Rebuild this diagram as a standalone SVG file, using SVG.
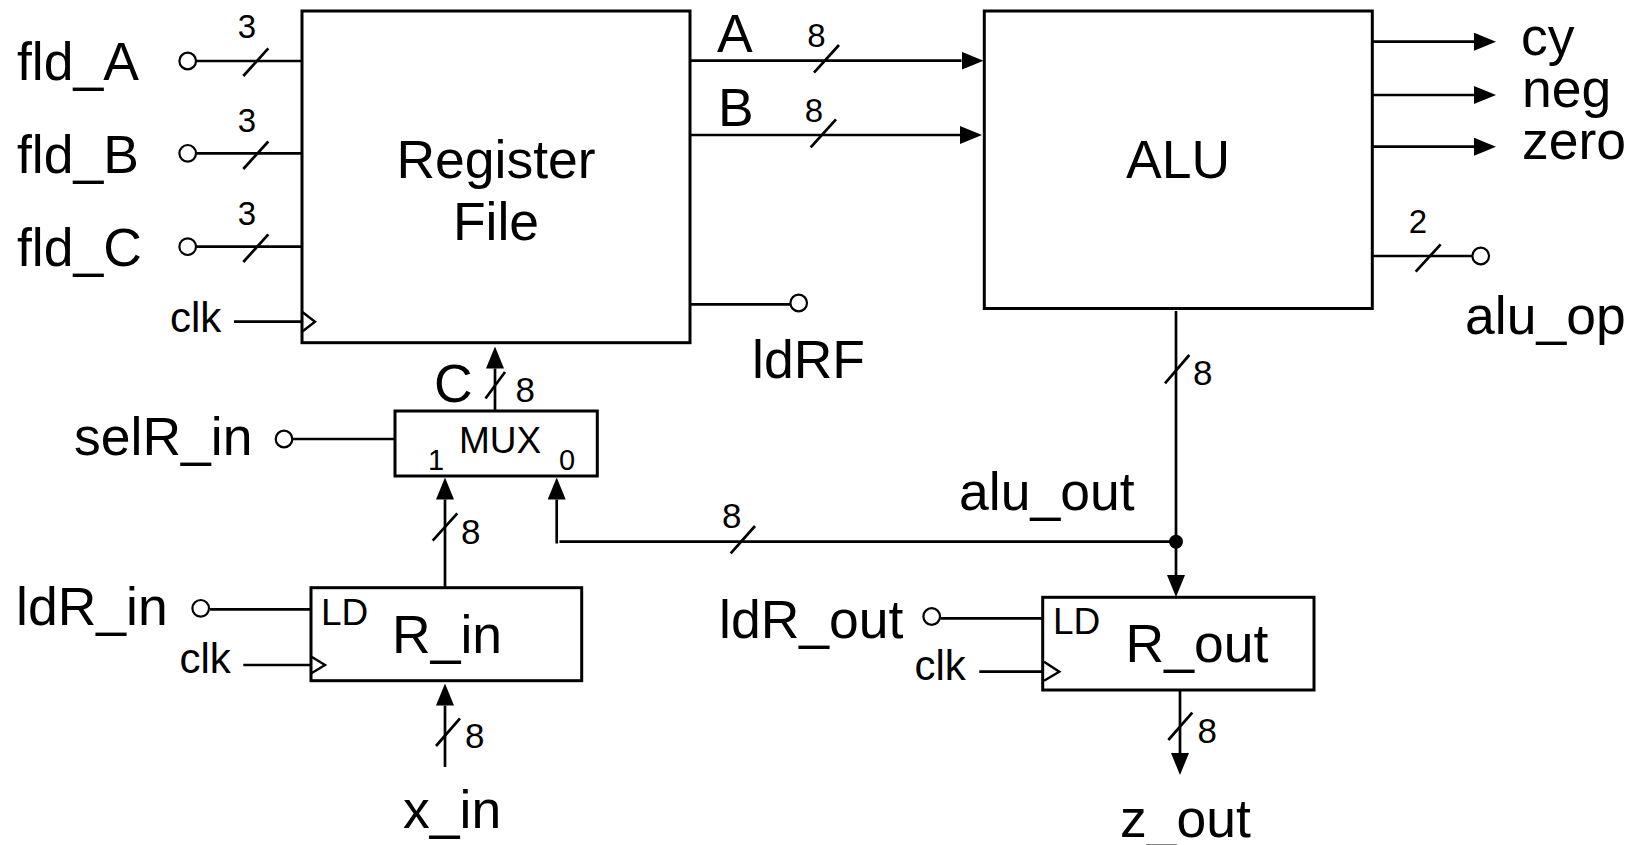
<svg xmlns="http://www.w3.org/2000/svg" width="1639" height="845" viewBox="0 0 1639 845">
<style>
text{font-family:"Liberation Sans",Arial,sans-serif;fill:#000}
.big{font-size:53.5px}
.clk{font-size:42px}
.w{font-size:33px}
.wv{font-size:35px}
.sm{font-size:37px}
.pin{font-size:29px}
.box{fill:#fff;stroke:#000;stroke-width:3}
.ln{fill:none;stroke:#000;stroke-width:2.7}
.pt{fill:#fff;stroke:#000;stroke-width:2.2}
.ck{fill:none;stroke:#000;stroke-width:2.4}
.ar{fill:none;stroke:#000;stroke-width:2.7;marker-end:url(#ah)}
</style>
<defs>
<marker id="ah" viewBox="0 0 22 18" refX="0" refY="9" markerWidth="22" markerHeight="18" orient="auto" markerUnits="userSpaceOnUse">
<path d="M0,0 L22,9 L0,18 z" fill="#000"/>
</marker>
</defs>
<rect width="1639" height="845" fill="#fff"/>

<g id="connectors">
<path class="ln" d="M196.5,61 H302"/>
<path class="ln" d="M243.3,76 L268.3,48.3"/>
<path class="ln" d="M196.5,153.3 H302"/>
<path class="ln" d="M243.3,169 L268.3,141.5"/>
<path class="ln" d="M196.5,246.7 H302"/>
<path class="ln" d="M243.3,262 L268.3,234.3"/>
<path class="ln" d="M234,321.7 H302"/>
<path class="ar" d="M691,60.7 H961.5"/>
<path class="ln" d="M814,72.7 L839,45"/>
<path class="ar" d="M691,135 H960"/>
<path class="ln" d="M810.7,147.3 L836,119.3"/>
<path class="ln" d="M691,304.3 H790"/>
<path class="ar" d="M1373,41.7 H1474"/>
<path class="ar" d="M1373,95 H1474"/>
<path class="ar" d="M1373,146.7 H1474"/>
<path class="ln" d="M1373,256 H1472"/>
<path class="ln" d="M1415.7,271.7 L1440.7,244.3"/>
<path class="ar" d="M495,410 V368.5"/>
<path class="ln" d="M485.5,398.5 L505,372"/>
<path class="ln" d="M293,439 H395"/>
<path class="ar" d="M445,588 V499.5"/>
<path class="ln" d="M432.7,540.7 L457.3,513.3"/>
<path class="ar" d="M556.7,543.5 V499.5"/>
<path class="ln" d="M559.5,541.7 H1176"/>
<path class="ln" d="M730.7,553.3 L755,526"/>
<path class="ln" d="M210,609.3 H311"/>
<path class="ln" d="M243.3,665 H311"/>
<path class="ar" d="M445,767 V705.5"/>
<path class="ln" d="M436,746 L460,718.3"/>
<path class="ar" d="M1176,311 V575"/>
<path class="ln" d="M1165,383.3 L1189.3,355"/>
<circle cx="1176" cy="541.7" r="7" fill="#000"/>
<path class="ln" d="M940.5,618.3 H1043"/>
<path class="ln" d="M979.3,671.7 H1043"/>
<path class="ar" d="M1180,690 V753"/>
<path class="ln" d="M1168.3,740 L1192.3,712.7"/>
</g>

<g id="fld_A">
<text class="big" x="17" y="80">fld_A</text>
<circle class="pt" cx="187.7" cy="61" r="8.3"/>
<text class="w" x="247" y="38.3" text-anchor="middle">3</text>
</g>
<g id="fld_B">
<text class="big" x="17" y="173.3">fld_B</text>
<circle class="pt" cx="187.7" cy="153.3" r="8.3"/>
<text class="w" x="247" y="131.7" text-anchor="middle">3</text>
</g>
<g id="fld_C">
<text class="big" x="17" y="266">fld_C</text>
<circle class="pt" cx="187.7" cy="246.7" r="8.3"/>
<text class="w" x="247" y="225" text-anchor="middle">3</text>
</g>

<g id="register_file">
<rect class="box" x="302" y="11" width="388" height="331.7"/>
<path class="ck" d="M302,311.7 L315,321.7 L302,331.7"/>
<text class="clk" x="170" y="331.7">clk</text>
<text class="big" x="496" y="178.3" text-anchor="middle">Register</text>
<text class="big" x="496" y="240" text-anchor="middle">File</text>
<text class="big" x="717" y="51.7">A</text>
<text class="big" x="718" y="126">B</text>
<text class="w" x="816.5" y="46.7" text-anchor="middle">8</text>
<text class="w" x="814" y="121.7" text-anchor="middle">8</text>
</g>

<g id="ldRF">
<circle class="pt" cx="798.7" cy="303" r="8.3"/>
<text class="big" x="752" y="378">ldRF</text>
</g>

<g id="alu">
<rect class="box" x="984.3" y="11" width="388" height="297.5"/>
<text class="big" x="1178" y="178.3" text-anchor="middle">ALU</text>
<text class="big" x="1521" y="55">cy</text>
<text class="big" x="1522" y="107">neg</text>
<text class="big" x="1522" y="158.5">zero</text>
</g>

<g id="alu_op">
<circle class="pt" cx="1480.7" cy="256" r="8.3"/>
<text class="w" x="1418" y="233.3" text-anchor="middle">2</text>
<text class="big" x="1465" y="334">alu_op</text>
</g>

<g id="mux">
<rect class="box" x="395" y="411" width="202.3" height="65"/>
<text class="sm" x="459" y="453.3">MUX</text>
<text class="pin" x="428" y="470">1</text>
<text class="pin" x="559" y="470">0</text>
<text class="big" x="434" y="402">C</text>
<text class="wv" x="515.5" y="401.7">8</text>
</g>

<g id="selR_in">
<text class="big" x="74" y="455">selR_in</text>
<circle class="pt" cx="284" cy="439" r="8.3"/>
</g>

<g id="R_in">
<rect class="box" x="311" y="587.7" width="270.7" height="93"/>
<path class="ck" d="M311.5,656.7 L325,665 L311.5,673.3"/>
<text class="sm" x="321" y="625">LD</text>
<text class="big" x="392" y="653.3">R_in</text>
<text class="clk" x="179.5" y="673.3">clk</text>
<text class="wv" x="461" y="544">8</text>
</g>

<g id="ldR_in">
<text class="big" x="16" y="625">ldR_in</text>
<circle class="pt" cx="200.7" cy="608.3" r="8.3"/>
</g>

<g id="x_in">
<text class="wv" x="465" y="748">8</text>
<text class="big" x="403" y="828.3">x_in</text>
</g>

<g id="alu_out">
<text class="big" x="959" y="510">alu_out</text>
<text class="wv" x="722" y="528">8</text>
<text class="wv" x="1193" y="385">8</text>
</g>

<g id="R_out">
<rect class="box" x="1042.7" y="597.3" width="271.3" height="92.7"/>
<path class="ck" d="M1044,661.7 L1059.3,671.7 L1044,680.7"/>
<text class="sm" x="1053" y="634">LD</text>
<text class="big" x="1125.5" y="661.7">R_out</text>
<text class="clk" x="914.5" y="680">clk</text>
</g>

<g id="ldR_out">
<text class="big" x="719" y="638.3">ldR_out</text>
<circle class="pt" cx="931.7" cy="616.5" r="8.3"/>
</g>

<g id="z_out">
<text class="wv" x="1197.5" y="743.3">8</text>
<text class="big" x="1120" y="836.5">z_out</text>
</g>
</svg>
